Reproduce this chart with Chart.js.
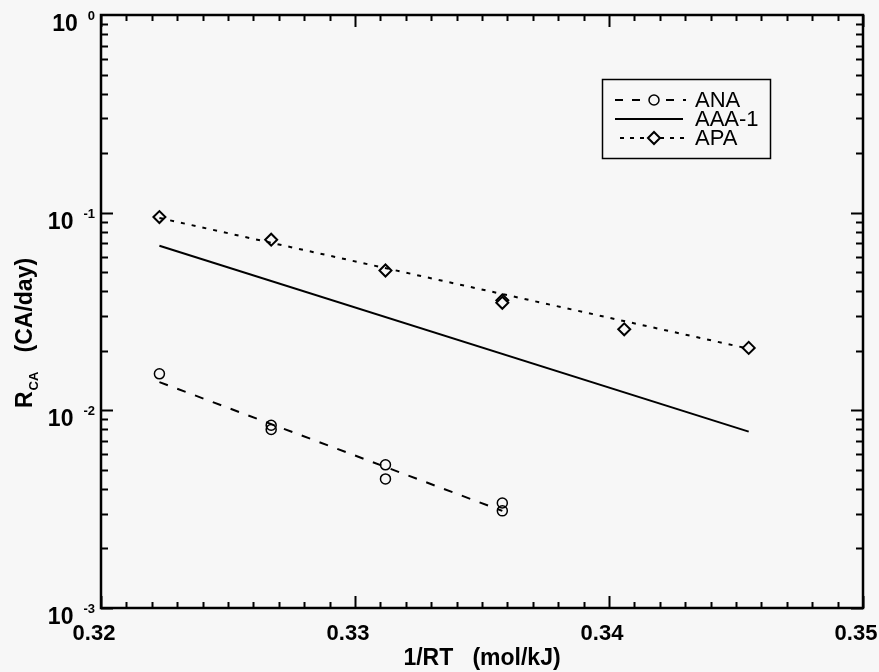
<!DOCTYPE html>
<html>
<head>
<meta charset="utf-8">
<title>R_CA x 1/RT</title>
<script src="https://cdn.jsdelivr.net/npm/chart.js@4.4.0/dist/chart.umd.min.js"></script>
<style>
  html, body { margin: 0; padding: 0; background: #f7f7f7; }
  #grafico { display: block; }
</style>
</head>
<body>
<canvas id="grafico" width="879" height="672"></canvas>
<script>
// pontos medidos
var anaX = [0.3223, 0.3267, 0.3267, 0.3312, 0.3312, 0.3358, 0.3358];
var anaY = [0.0153, 0.0084, 0.0080, 0.0053, 0.0045, 0.0034, 0.0031];
var apaX = [0.3223, 0.3267, 0.3312, 0.3358, 0.3358, 0.3406, 0.3455];
var apaY = [0.095, 0.073, 0.051, 0.036, 0.035, 0.0257, 0.0207];

// retas ajustadas (extremos)
var anaFitX = [0.3223, 0.3358];
var anaFitY = [0.0139, 0.0031];
var aaaX = [0.3223, 0.3455];
var aaaY = [0.068, 0.0078];
var apaFitX = [0.3223, 0.3455];
var apaFitY = [0.094, 0.0205];

// eixos
var xMin = 0.32, xMax = 0.35, xPasso = 0.01, xMenor = 0.001;
var yDecadas = [1e-3, 1e-2, 1e-1, 1];

var FONTE = '"Liberation Sans", Arial, sans-serif';

function pontos(xs, ys) {
  return xs.map(function(x, i) { return { x: x, y: ys[i] }; });
}

function linha(xs, ys, traco) {
  return {
    type: "line",
    data: pontos(xs, ys),
    borderColor: "#000",
    borderWidth: 2,
    borderDash: traco,
    pointRadius: 0,
    fill: false
  };
}

// moldura, marcas dos eixos, rotulos 10^n, titulo do eixo y e legenda
var moldura = {
  id: "moldura",
  afterDraw: function(chart) {
    var ctx = chart.ctx, a = chart.chartArea;
    var sx = chart.scales.x, sy = chart.scales.y;
    ctx.save();
    ctx.strokeStyle = "#000";
    ctx.fillStyle = "#000";

    // marcas em x (baixo e topo)
    ctx.lineWidth = 2;
    ctx.beginPath();
    var n = Math.round((xMax - xMin) / xMenor);
    for (var k = 0; k <= n; k++) {
      var px = Math.round(sx.getPixelForValue(xMin + k * xMenor)) + 0.5;
      var len = (k % Math.round(xPasso / xMenor) === 0) ? 12 : 6;
      ctx.moveTo(px, a.bottom); ctx.lineTo(px, a.bottom - len);
      ctx.moveTo(px, a.top); ctx.lineTo(px, a.top + len);
    }
    // marcas em y (esquerda e direita)
    for (var d = 0; d < yDecadas.length - 1; d++) {
      for (var m = 1; m < 10; m++) {
        var py = Math.round(sy.getPixelForValue(yDecadas[d] * m)) + 0.5;
        var l = (m === 1) ? 12 : 7;
        ctx.moveTo(a.left, py); ctx.lineTo(a.left + l, py);
        ctx.moveTo(a.right, py); ctx.lineTo(a.right - l, py);
      }
    }
    ctx.stroke();

    ctx.lineWidth = 2.5;
    ctx.strokeRect(a.left, a.top, a.right - a.left, a.bottom - a.top);

    // rotulos 10^n
    ctx.textBaseline = "alphabetic";
    ctx.textAlign = "right";
    yDecadas.forEach(function(v) {
      var py = sy.getPixelForValue(v);
      var expo = String(Math.round(Math.log10(v)));
      ctx.font = "bold 13px " + FONTE;
      var ew = ctx.measureText(expo).width;
      ctx.fillText(expo, 95, py + 5);
      ctx.font = "bold 23px " + FONTE;
      ctx.fillText("10", 95 - ew - 10, py + 16);
    });

    // titulo do eixo y: R com indice CA
    ctx.save();
    ctx.translate(32, 408);
    ctx.rotate(-Math.PI / 2);
    ctx.textAlign = "left";
    ctx.font = "bold 23px " + FONTE;
    ctx.fillText("R", 0, 0);
    var x0 = ctx.measureText("R").width;
    ctx.font = "bold 13px " + FONTE;
    ctx.fillText("CA", x0 + 1, 6);
    x0 += ctx.measureText("CA").width + 1;
    ctx.font = "bold 23px " + FONTE;
    ctx.fillText("   (CA/day)", x0, 0);
    ctx.restore();

    // legenda
    ctx.lineWidth = 1.5;
    ctx.strokeRect(602.5, 79.5, 168, 79);
    var itens = [
      { nome: "ANA", y: 100, traco: [8, 9], marca: "circulo", x1: 615, x2: 686 },
      { nome: "AAA-1", y: 119, traco: [], marca: null, x1: 615, x2: 683 },
      { nome: "APA", y: 138, traco: [4, 6], marca: "losango", x1: 620, x2: 688 }
    ];
    itens.forEach(function(it) {
      ctx.lineWidth = 2;
      ctx.setLineDash(it.traco);
      ctx.beginPath();
      ctx.moveTo(it.x1, it.y); ctx.lineTo(it.x2, it.y);
      ctx.stroke();
      ctx.setLineDash([]);
      var cx = 654;
      if (it.marca === "circulo") {
        ctx.fillStyle = "#f7f7f7";
        ctx.beginPath(); ctx.arc(cx, it.y, 5, 0, Math.PI * 2); ctx.fill();
        ctx.lineWidth = 1.5; ctx.stroke();
      } else if (it.marca === "losango") {
        ctx.fillStyle = "#f7f7f7";
        ctx.beginPath();
        ctx.moveTo(cx - 6, it.y); ctx.lineTo(cx, it.y - 6);
        ctx.lineTo(cx + 6, it.y); ctx.lineTo(cx, it.y + 6);
        ctx.closePath(); ctx.fill();
        ctx.lineWidth = 2; ctx.stroke();
      }
      ctx.fillStyle = "#000";
      ctx.font = "22px " + FONTE;
      ctx.textAlign = "left";
      ctx.fillText(it.nome, 695, it.y + 7);
    });

    ctx.restore();
  }
};

var grafico = new Chart(document.getElementById("grafico"), {
  type: "scatter",
  data: {
    datasets: [
      linha(anaFitX, anaFitY, [9, 10]),
      linha(aaaX, aaaY, []),
      linha(apaFitX, apaFitY, [4, 7]),
      {
        label: "ANA",
        data: pontos(anaX, anaY),
        pointStyle: "circle",
        pointRadius: 5,
        pointBorderWidth: 1.5,
        pointBorderColor: "#000",
        pointBackgroundColor: "rgba(0,0,0,0)",
        showLine: false
      },
      {
        label: "APA",
        data: pontos(apaX, apaY),
        pointStyle: "rectRot",
        pointRadius: 6,
        pointBorderWidth: 2,
        pointBorderColor: "#000",
        pointBackgroundColor: "#f7f7f7",
        showLine: false
      }
    ]
  },
  options: {
    responsive: false,
    animation: false,
    devicePixelRatio: 1,
    layout: { padding: { top: 15, right: 16, left: 0, bottom: 0 } },
    plugins: { legend: { display: false }, tooltip: { enabled: false } },
    scales: {
      x: {
        type: "linear",
        min: xMin,
        max: xMax,
        grid: { display: false },
        border: { display: false },
        ticks: {
          stepSize: xPasso,
          color: "#000",
          padding: 5,
          labelOffset: -7,
          font: { family: FONTE, size: 22, weight: "bold" },
          callback: function(v) { return v.toFixed(2); }
        },
        title: {
          display: true,
          text: "1/RT   (mol/kJ)",
          color: "#000",
          font: { family: FONTE, size: 23, weight: "bold" },
          padding: { top: 0, bottom: 0 }
        },
        afterFit: function(s) {
          s.height = 64;
          s.paddingLeft = 0;
          s.paddingRight = 0;
        }
      },
      y: {
        type: "logarithmic",
        min: 1e-3,
        max: 1,
        grid: { display: false },
        border: { display: false },
        ticks: { display: false },
        afterFit: function(s) { s.width = 101; }
      }
    }
  },
  plugins: [moldura]
});
</script>
</body>
</html>
